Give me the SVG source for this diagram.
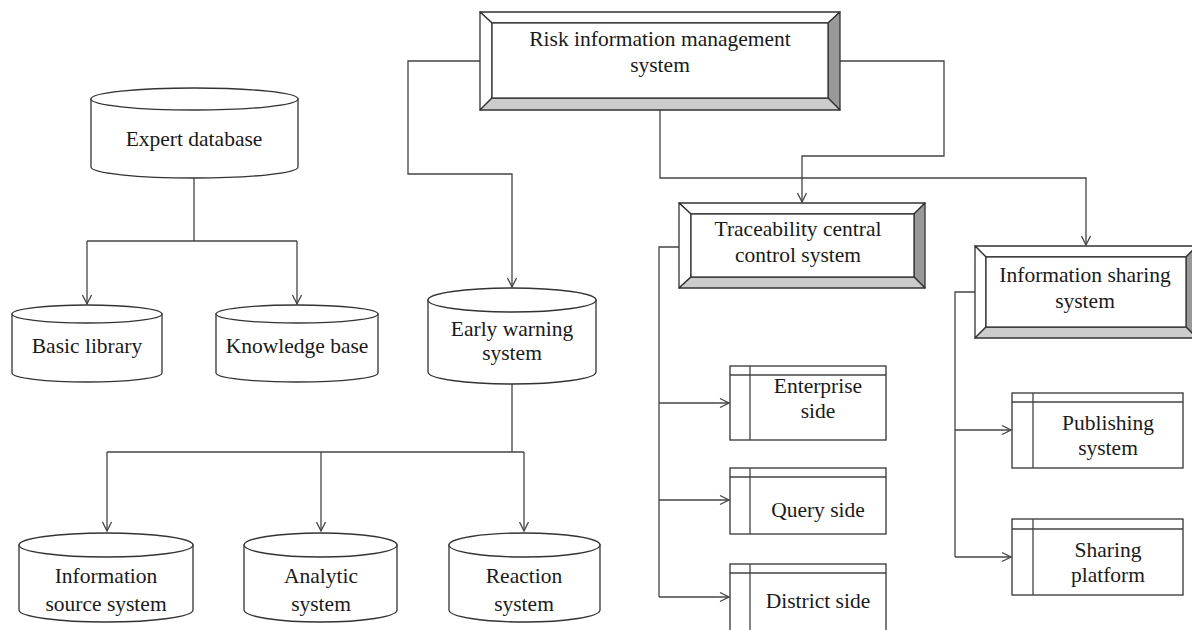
<svg xmlns="http://www.w3.org/2000/svg" width="1192" height="630" viewBox="0 0 1192 630">
  <defs>
    <style>
      .bg { fill: #ffffff; }
      .shape { fill: #ffffff; stroke: #333333; stroke-width: 1.3; }
      .bev-light { fill: #ffffff; stroke: #333333; stroke-width: 1.3; stroke-linejoin: round; }
      .bev-mid { fill: #cccccc; stroke: #333333; stroke-width: 1.3; stroke-linejoin: round; }
      .bev-dark { fill: #999999; stroke: #333333; stroke-width: 1.3; stroke-linejoin: round; }
      .line { fill: none; stroke: #444444; stroke-width: 1.3; }
      .arrow { fill: none; stroke: #444444; stroke-width: 1.3; marker-end: url(#head); }
      .label { font-family: "Liberation Serif", "Times New Roman", serif; font-size: 21.5px; fill: #1a1a1a; text-anchor: middle; }
    </style>
    <marker id="head" viewBox="0 0 12 12" refX="11" refY="6" markerWidth="12" markerHeight="12" markerUnits="userSpaceOnUse" orient="auto">
      <polyline points="2,1.5 11,6 2,10.5" fill="none" stroke="#444444" stroke-width="1.3"/>
    </marker>
  </defs>

  <rect class="bg" x="0" y="0" width="1192" height="630"/>

  <!-- connectors -->
  <g id="connectors">
    <path class="arrow" d="M480,61 H408 V174 H512 V287"/>
    <path class="arrow" d="M840,61 H944 V156 H802 V202"/>
    <path class="arrow" d="M660,110 V178 H1086 V245"/>

    <path class="line" d="M194,178 V241 M87,241 H297"/>
    <path class="arrow" d="M87,241 V304"/>
    <path class="arrow" d="M297,241 V304"/>

    <path class="line" d="M512,384 V452 M107,452 H524"/>
    <path class="arrow" d="M107,452 V531"/>
    <path class="arrow" d="M321,452 V531"/>
    <path class="arrow" d="M524,452 V531"/>

    <path class="line" d="M679,247 H659 V597"/>
    <path class="arrow" d="M659,403 H729"/>
    <path class="arrow" d="M659,500 H729"/>
    <path class="arrow" d="M659,597 H729"/>

    <path class="line" d="M975,292 H955 V557"/>
    <path class="arrow" d="M955,430 H1011"/>
    <path class="arrow" d="M955,557 H1011"/>
  </g>

  <!-- bevelled system boxes -->
  <g id="risk-management">
    <polygon class="bev-light" points="480,12 840,12 828,23 492,23"/>
    <polygon class="bev-light" points="480,12 492,23 492,98 480,110"/>
    <polygon class="bev-dark" points="840,12 840,110 828,98 828,23"/>
    <polygon class="bev-mid" points="480,110 492,98 828,98 840,110"/>
    <rect class="shape" x="492" y="23" width="336" height="75"/>
    <text class="label" x="660" y="46">Risk information management</text>
    <text class="label" x="660" y="72">system</text>
  </g>

  <g id="traceability">
    <polygon class="bev-light" points="679,203 925,203 914,214 691,214"/>
    <polygon class="bev-light" points="679,203 691,214 691,277 679,288"/>
    <polygon class="bev-dark" points="925,203 925,288 914,277 914,214"/>
    <polygon class="bev-mid" points="679,288 691,277 914,277 925,288"/>
    <rect class="shape" x="691" y="214" width="223" height="63"/>
    <text class="label" x="798" y="236">Traceability central</text>
    <text class="label" x="798" y="262">control system</text>
  </g>

  <g id="information-sharing">
    <polygon class="bev-light" points="975,246 1197,246 1186,257 986,257"/>
    <polygon class="bev-light" points="975,246 986,257 986,327 975,338"/>
    <polygon class="bev-dark" points="1197,246 1197,338 1186,327 1186,257"/>
    <polygon class="bev-mid" points="975,338 986,327 1186,327 1197,338"/>
    <rect class="shape" x="986" y="257" width="200" height="70"/>
    <text class="label" x="1085" y="282">Information sharing</text>
    <text class="label" x="1085" y="308">system</text>
  </g>

  <!-- databases -->
  <g id="expert-database">
    <path class="shape" d="M91,99 V167 A103.5,11 0 0 0 298,167 V99 Z"/>
    <ellipse class="shape" cx="194.5" cy="99" rx="103.5" ry="11"/>
    <text class="label" x="194" y="146">Expert database</text>
  </g>

  <g id="basic-library">
    <path class="shape" d="M12,314 V373 A75,9 0 0 0 162,373 V314 Z"/>
    <ellipse class="shape" cx="87" cy="314" rx="75" ry="9"/>
    <text class="label" x="87" y="353">Basic library</text>
  </g>

  <g id="knowledge-base">
    <path class="shape" d="M216,314 V373 A81,9 0 0 0 378,373 V314 Z"/>
    <ellipse class="shape" cx="297" cy="314" rx="81" ry="9"/>
    <text class="label" x="297" y="353">Knowledge base</text>
  </g>

  <g id="early-warning">
    <path class="shape" d="M428,300 V372 A84,12 0 0 0 596,372 V300 Z"/>
    <ellipse class="shape" cx="512" cy="300" rx="84" ry="12"/>
    <text class="label" x="512" y="336">Early warning</text>
    <text class="label" x="512" y="360">system</text>
  </g>

  <g id="information-source">
    <path class="shape" d="M19,545 V610 A87,12 0 0 0 193,610 V545 Z"/>
    <ellipse class="shape" cx="106" cy="545" rx="87" ry="12"/>
    <text class="label" x="106" y="583">Information</text>
    <text class="label" x="106" y="611">source system</text>
  </g>

  <g id="analytic">
    <path class="shape" d="M244,545 V610 A76.5,12 0 0 0 397,610 V545 Z"/>
    <ellipse class="shape" cx="320.5" cy="545" rx="76.5" ry="12"/>
    <text class="label" x="321" y="583">Analytic</text>
    <text class="label" x="321" y="611">system</text>
  </g>

  <g id="reaction">
    <path class="shape" d="M449,545 V610 A75.5,12 0 0 0 600,610 V545 Z"/>
    <ellipse class="shape" cx="524.5" cy="545" rx="75.5" ry="12"/>
    <text class="label" x="524" y="583">Reaction</text>
    <text class="label" x="524" y="611">system</text>
  </g>

  <!-- terminal modules -->
  <g id="enterprise-side">
    <rect class="shape" x="730" y="366" width="156" height="74"/>
    <path class="line" d="M730,375 H886 M750,366 V440"/>
    <text class="label" x="818" y="393">Enterprise</text>
    <text class="label" x="818" y="418">side</text>
  </g>

  <g id="query-side">
    <rect class="shape" x="730" y="468" width="156" height="66"/>
    <path class="line" d="M730,477 H886 M750,468 V534"/>
    <text class="label" x="818" y="517">Query side</text>
  </g>

  <g id="district-side">
    <rect class="shape" x="730" y="564" width="156" height="76"/>
    <path class="line" d="M730,573 H886 M750,564 V640"/>
    <text class="label" x="818" y="608">District side</text>
  </g>

  <g id="publishing-system">
    <rect class="shape" x="1012" y="393" width="171" height="75"/>
    <path class="line" d="M1012,402 H1183 M1033,393 V468"/>
    <text class="label" x="1108" y="430">Publishing</text>
    <text class="label" x="1108" y="455">system</text>
  </g>

  <g id="sharing-platform">
    <rect class="shape" x="1012" y="519" width="171" height="76"/>
    <path class="line" d="M1012,529 H1183 M1033,519 V595"/>
    <text class="label" x="1108" y="557">Sharing</text>
    <text class="label" x="1108" y="582">platform</text>
  </g>
</svg>
